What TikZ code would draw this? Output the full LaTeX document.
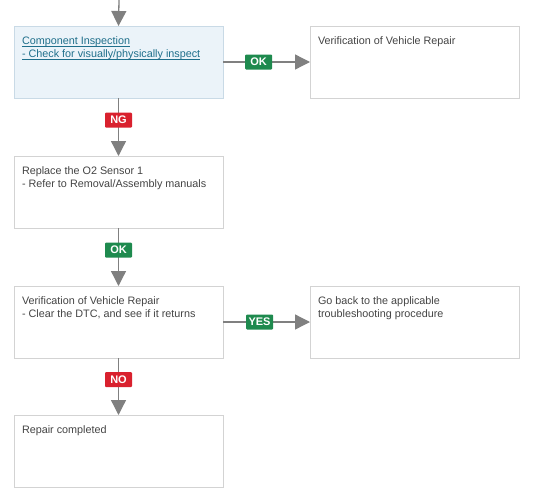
\documentclass[tikz,border=0pt]{standalone}
\usepackage{fontspec}
\setmainfont{Liberation Sans}
\usetikzlibrary{arrows.meta}
\definecolor{txt}{HTML}{444444}
\definecolor{lnk}{HTML}{1F6F8B}
\definecolor{bord}{HTML}{D3D3D3}
\definecolor{bluefill}{HTML}{EBF3F9}
\definecolor{blueb}{HTML}{C9DAE6}
\definecolor{okgreen}{HTML}{1E8A4E}
\definecolor{ngred}{HTML}{D9212E}
\definecolor{arr}{HTML}{808080}
\tikzset{
  x=1pt, y=-1pt,
  box/.style={draw=bord, line width=0.8pt, fill=white, anchor=north west, inner sep=8pt, outer sep=0pt,
    font=\fontsize{10.8}{13}\selectfont, text=txt},
  bluebox/.style={box, draw=blueb, fill=bluefill},
  tag/.style={fill=#1, text=white, font=\fontsize{11}{11}\selectfont\bfseries, minimum width=27pt,
    minimum height=15pt, inner sep=0pt, rounded corners=1pt},
  conn/.style={draw=arr, line width=1.3pt, -{Triangle[width=15pt,length=15pt]}, color=arr},
}
\newcommand{\boxtext}[1]{\parbox[t][56pt][t]{193pt}{\raggedright\vspace*{2.5pt}#1}}
\newcommand{\myul}[1]{\underline{\smash{#1}}\vphantom{#1}}
\begin{document}
\begin{tikzpicture}
\useasboundingbox (0,0) rectangle (534,503);
\node[bluebox] (b1) at (14,26) {\boxtext{\color{lnk}\myul{Component Inspection}\\\myul{- Check for visually/physically inspect}}};
\node[box] (r1) at (310,26) {\boxtext{Verification of Vehicle Repair}};
\node[box] (b2) at (14,156) {\boxtext{Replace the O2 Sensor 1\\- Refer to Removal/Assembly manuals}};
\node[box] (b3) at (14,286) {\boxtext{Verification of Vehicle Repair\\- Clear the DTC, and see if it returns}};
\node[box] (r3) at (310,286) {\boxtext{Go back to the applicable\\troubleshooting procedure}};
\node[box] (b4) at (14,415) {\boxtext{Repair completed}};
\coordinate (top) at (119,0);
\draw[conn] (top) -- (b1.north);
\draw[conn] (b1.east) -- (r1.west) node[tag=okgreen, pos=0.41] (l1) {OK};
\draw[conn] (b1.south) -- (b2.north) node[tag=ngred, pos=0.38] (l2) {NG};
\draw[conn] (b2.south) -- (b3.north) node[tag=okgreen, pos=0.38] (l3) {OK};
\draw[conn] (b3.east) -- (r3.west) node[tag=okgreen, pos=0.42] (l4) {YES};
\draw[conn] (b3.south) -- (b4.north) node[tag=ngred, pos=0.38] (l5) {NO};
\end{tikzpicture}
\end{document}
